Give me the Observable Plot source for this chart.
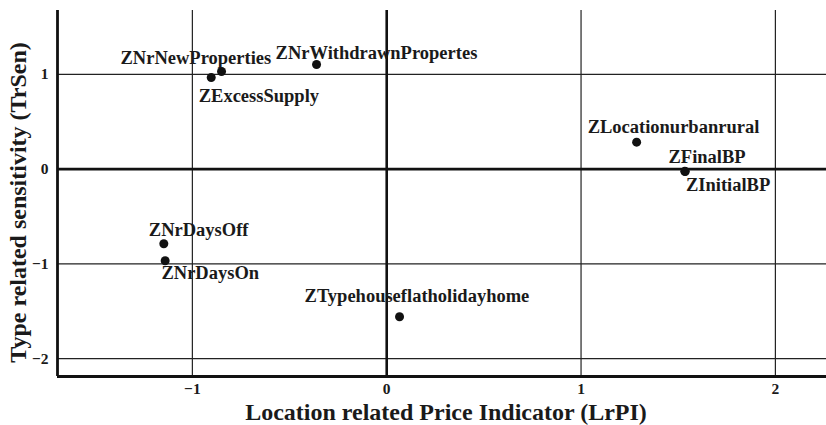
<!DOCTYPE html>
<html>
<head>
<meta charset="utf-8">
<script src="https://cdn.jsdelivr.net/npm/d3@7"></script>
<script src="https://cdn.jsdelivr.net/npm/@observablehq/plot@0.6"></script>
<style>
html, body { margin: 0; padding: 0; background: #fff; }
</style>
</head>
<body>
<div id="chart"></div>
<script>
// ---- data ----
const names = [
  "ZNrNewProperties",
  "ZNrWithdrawnPropertes",
  "ZExcessSupply",
  "ZLocationurbanrural",
  "ZFinalBP",
  "ZInitialBP",
  "ZNrDaysOff",
  "ZNrDaysOn",
  "ZTypehouseflatholidayhome"
];
const lrpi  = [-0.850, -0.361, -0.903, 1.286, 1.534, 1.536, -1.147, -1.140, 0.066];
const trsen = [ 1.030,  1.103,  0.966, 0.284, -0.024, -0.026, -0.788, -0.967, -1.558];
const xTicks = [-1, 0, 1, 2];
const yTicks = [-2, -1, 0, 1];
const xTitle = "Location related Price Indicator (LrPI)";
const yTitle = "Type related sensitivity (TrSen)";

// ---- layout (label offsets in px from each point) ----
const placement = {
  "ZNrNewProperties": [-101, -13.5],
  "ZNrWithdrawnPropertes": [-41, -11.5],
  "ZExcessSupply": [-12.5, 19],
  "ZLocationurbanrural": [-49, -15],
  "ZFinalBP": [-16.3, -14.5],
  "ZInitialBP": [0.7, 14],
  "ZNrDaysOff": [-15, -14],
  "ZNrDaysOn": [-3.7, 12.7],
  "ZTypehouseflatholidayhome": [-95, -21]
};
const xDomain = [-1.694, 2.263];
const yDomain = [-2.188, 1.673];
const font = "'Liberation Serif', 'Times New Roman', serif";
const ink = "#1a1a1a";
const fmt = d => (d < 0 ? "\u2212" : "") + Math.abs(d);

const points = names.map((name, i) => ({name, x: lrpi[i], y: trsen[i]}));

const labelMarks = points.map(p => Plot.text([p], {
  x: "x", y: "y", text: "name",
  textAnchor: "start", lineAnchor: "middle",
  dx: placement[p.name][0], dy: placement[p.name][1],
  fontSize: 18.5, fill: ink
}));

const chart = Plot.plot({
  width: 826,
  height: 425,
  marginLeft: 57,
  marginRight: 0,
  marginTop: 10,
  marginBottom: 49,
  style: {fontFamily: font, fontWeight: "bold", background: "#fff", color: ink},
  x: {domain: xDomain},
  y: {domain: yDomain},
  marks: [
    Plot.ruleX(xTicks.filter(v => v !== 0), {stroke: "#222", strokeWidth: 1.2}),
    Plot.ruleY(yTicks.filter(v => v !== 0), {stroke: "#222", strokeWidth: 1.2}),
    Plot.ruleX([0], {stroke: "#111", strokeWidth: 2.6}),
    Plot.ruleY([0], {stroke: "#111", strokeWidth: 2.6}),
    Plot.ruleX([xDomain[0]], {stroke: "#111", strokeWidth: 2.8}),
    Plot.ruleY([yDomain[0]], {stroke: "#111", strokeWidth: 2.8}),
    Plot.axisX({ticks: xTicks, tickFormat: fmt, tickSize: 0, tickPadding: 6, fontSize: 15.5, label: null}),
    Plot.axisY({ticks: yTicks, tickFormat: fmt, tickSize: 0, tickPadding: 9, fontSize: 15.5, label: null}),
    Plot.dot(points, {x: "x", y: "y", r: 4.5, fill: "#111"}),
    ...labelMarks,
    Plot.text([xTitle], {text: d => d, frameAnchor: "bottom", textAnchor: "middle", lineAnchor: "middle", dx: 4, dy: 35.5, fontSize: 24, fill: ink}),
    Plot.text([yTitle], {text: d => d, frameAnchor: "left", textAnchor: "middle", lineAnchor: "middle", rotate: -90, dx: -38.7, dy: 9, fontSize: 24, fill: ink})
  ]
});
document.getElementById("chart").appendChild(chart);
</script>
</body>
</html>
